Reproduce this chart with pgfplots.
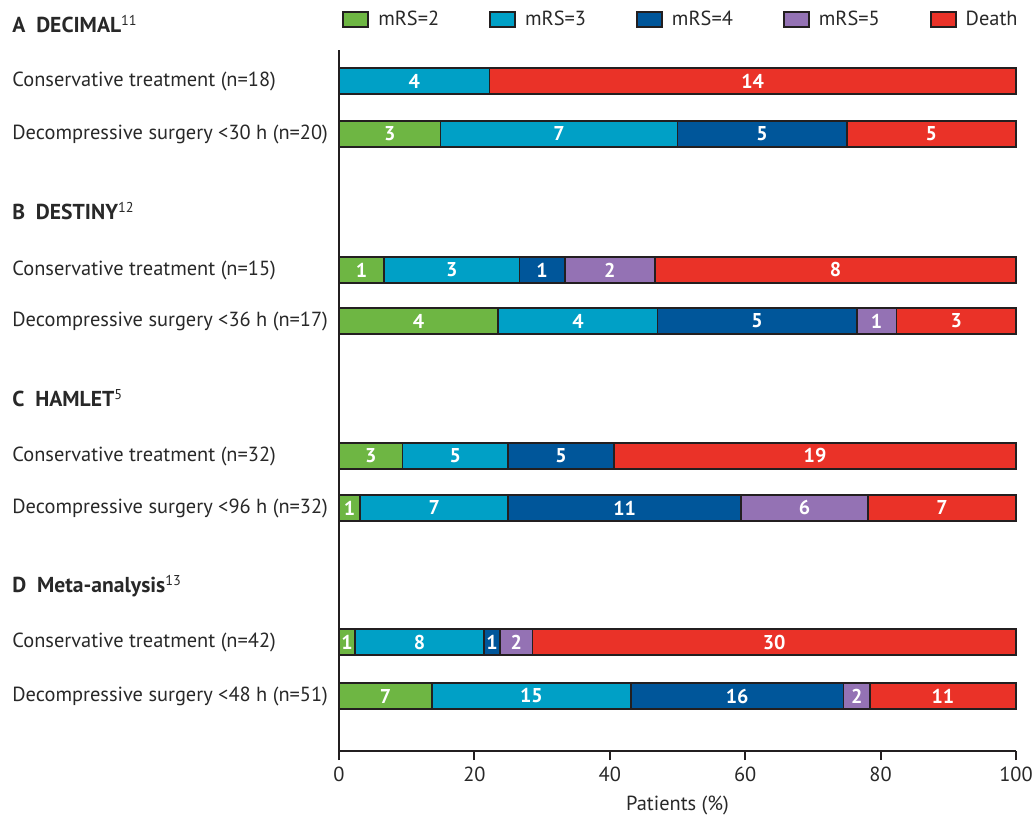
\documentclass[border=0pt]{standalone}
\usepackage{fontspec}
\setmainfont{PT Sans}
\usepackage{pgfplots}
\pgfplotsset{compat=1.18}
\usepackage{pgfplotstable}

\definecolor{cG}{RGB}{110,182,67}
\definecolor{cC}{RGB}{0,160,198}
\definecolor{cB}{RGB}{0,86,154}
\definecolor{cP}{RGB}{148,114,180}
\definecolor{cR}{RGB}{234,50,40}
\definecolor{edge}{RGB}{35,31,32}
\definecolor{txt}{RGB}{40,40,40}

% y = vertical position of each bar; pct = share of patients (%); n = count
\pgfplotstableread{
y pct n
-81 0 0
-134 15 3
-270 6.667 1
-321 23.529 4
-456 9.375 3
-508 3.125 1
-642 2.381 1
-696 13.725 7
}\mrsTwo
\pgfplotstableread{
y pct n
-81 22.222 4
-134 35 7
-270 20 3
-321 23.529 4
-456 15.625 5
-508 21.875 7
-642 19.048 8
-696 29.412 15
}\mrsThree
\pgfplotstableread{
y pct n
-81 0 0
-134 25 5
-270 6.667 1
-321 29.412 5
-456 15.625 5
-508 34.375 11
-642 2.381 1
-696 31.373 16
}\mrsFour
\pgfplotstableread{
y pct n
-81 0 0
-134 0 0
-270 13.333 2
-321 5.882 1
-456 0 0
-508 18.75 6
-642 4.762 2
-696 3.922 2
}\mrsFive
\pgfplotstableread{
y pct n
-81 77.778 14
-134 25 5
-270 53.333 8
-321 17.647 3
-456 59.375 19
-508 21.875 7
-642 71.429 30
-696 21.569 11
}\death
% segment centres for the count labels
\pgfplotstableread{
x y n
11.111 -81 4
61.111 -81 14
7.5 -134 3
32.5 -134 7
62.5 -134 5
87.5 -134 5
3.333 -270 1
16.667 -270 3
30 -270 1
40 -270 2
73.333 -270 8
11.765 -321 4
35.294 -321 4
61.765 -321 5
79.412 -321 1
91.176 -321 3
4.688 -456 3
17.188 -456 5
32.813 -456 5
70.313 -456 19
1.563 -508 1
14.063 -508 7
42.188 -508 11
68.75 -508 6
89.063 -508 7
1.190 -642 1
11.905 -642 8
22.619 -642 1
26.190 -642 2
64.286 -642 30
6.863 -696 7
28.431 -696 15
58.824 -696 16
76.471 -696 2
89.216 -696 11
}\labels

\newcommand{\lf}{\fontsize{10.2}{12}\selectfont}
\newcommand{\hf}{\fontsize{10.8}{12}\selectfont\bfseries}

\begin{document}
\begin{tikzpicture}[font=\lf, text=txt]
\useasboundingbox (-169.5pt,-32pt) rectangle (347pt,375.5pt);
\begin{axis}[
  scale only axis, width=338.5pt, height=375.5pt,
  xmin=0, xmax=100, ymin=-751, ymax=0,
  xbar stacked, bar width=26,
  axis x line*=bottom, axis y line*=left,
  axis line style={-, line width=1pt, draw=edge},
  y axis line style={shorten >=25pt},
  xtick={0,20,40,60,80,100},
  tick align=outside, major tick length=4.5pt,
  xtick style={line width=1pt, draw=edge},
  /pgf/number format/assume math mode=true,
  xticklabel style={font=\lf, text=txt},
  ytick={-24,-81,-134,-211,-270,-321,-398,-456,-508,-586,-642,-696},
  yticklabels={
    {{\hf A\hspace{0.5em}DECIMAL}\textsuperscript{11}},
    {Conservative treatment (n=18)},
    {Decompressive surgery <30 h (n=20)},
    {{\hf B\hspace{0.5em}DESTINY}\textsuperscript{12}},
    {Conservative treatment (n=15)},
    {Decompressive surgery <36 h (n=17)},
    {{\hf C\hspace{0.5em}HAMLET}\textsuperscript{5}},
    {Conservative treatment (n=32)},
    {Decompressive surgery <96 h (n=32)},
    {{\hf D\hspace{0.5em}Meta-analysis}\textsuperscript{13}},
    {Conservative treatment (n=42)},
    {Decompressive surgery <48 h (n=51)}},
  ytick style={draw=none},
  yticklabel style={anchor=west, xshift=-159pt, inner sep=0pt, font=\lf, text=txt},
  xlabel={Patients (\%)},
  xlabel style={font=\lf, text=txt},
  legend columns=5,
  legend style={at={(1,0.974)}, anchor=east, xshift=3pt, draw=none, fill=none, inner sep=0pt,
    font=\lf, text=txt,
    /tikz/every even column/.append style={column sep=23pt}},
  legend image code/.code={\draw[#1, line width=0.9pt] (0pt,-3.75pt) rectangle (12.5pt,3.75pt); \path[draw=none, fill=none] (0pt,0pt) -- (15.5pt,0pt);},
  clip=false,
]
\addplot[fill=cG, draw=edge, line width=0.9pt] table[x=pct, y=y] \mrsTwo;
\addlegendentry{mRS=2}
\addplot[fill=cC, draw=edge, line width=0.9pt] table[x=pct, y=y] \mrsThree;
\addlegendentry{mRS=3}
\addplot[fill=cB, draw=edge, line width=0.9pt] table[x=pct, y=y] \mrsFour;
\addlegendentry{mRS=4}
\addplot[fill=cP, draw=edge, line width=0.9pt] table[x=pct, y=y] \mrsFive;
\addlegendentry{mRS=5}
\addplot[fill=cR, draw=edge, line width=0.9pt] table[x=pct, y=y] \death;
\addlegendentry{Death}
\end{axis}
\begin{axis}[
  scale only axis, width=338.5pt, height=375.5pt,
  xmin=0, xmax=100, ymin=-751, ymax=0,
  hide axis, clip=false,
]
\addplot[only marks, mark=none, nodes near coords, point meta=explicit symbolic,
  nodes near coords style={anchor=center, text=white, font=\fontsize{10}{12}\selectfont\bfseries}]
  table[x=x, y=y, meta=n] \labels;
\end{axis}
\end{tikzpicture}
\end{document}
